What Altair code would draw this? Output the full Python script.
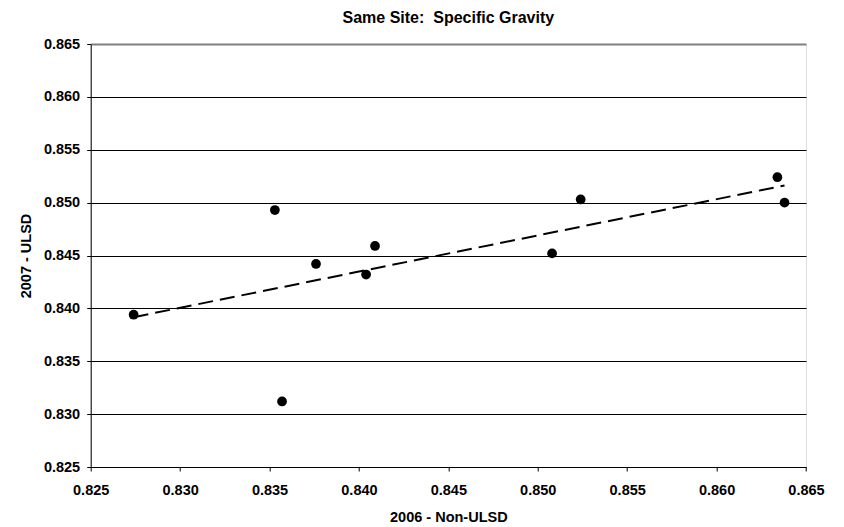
import altair as alt
import pandas as pd

# Data
x_2006 = [0.8274, 0.8353, 0.8357, 0.8376, 0.8409, 0.8404, 0.8524, 0.8508, 0.8634, 0.8638]
y_2007 = [0.8394, 0.8493, 0.8312, 0.8442, 0.8459, 0.8432, 0.8503, 0.8452, 0.8524, 0.8500]
tick_values = [0.825, 0.830, 0.835, 0.840, 0.845, 0.850, 0.855, 0.860, 0.865]

df = pd.DataFrame({"x": x_2006, "y": y_2007})

FONT = "Liberation Sans"

xscale = alt.Scale(domain=[0.825, 0.865], nice=False, zero=False)
yscale = alt.Scale(domain=[0.825, 0.865], nice=False, zero=False)

xaxis = alt.Axis(
    values=tick_values, format=".3f", title="2006 - Non-ULSD",
    grid=False, tickSize=4, tickColor="black", labelPadding=12,
    domainColor="black", labelFont=FONT, labelFontSize=14.5,
    labelFontWeight="bold", labelColor="black", titleFont=FONT,
    titleFontSize=14.5, titleFontWeight="bold", titleColor="black",
    titlePadding=14, labelFlush=False,
)
yaxis = alt.Axis(
    values=tick_values, format=".3f", title="2007 - ULSD",
    grid=True,
    gridColor={"condition": {"test": "datum.value > 0.8649", "value": "#808080"}, "value": "black"},
    gridWidth={"condition": {"test": "datum.value > 0.8649", "value": 2}, "value": 1},
    tickSize=4, tickColor="black", labelPadding=7,
    domainColor="black", labelFont=FONT, labelFontSize=14.5,
    labelFontWeight="bold", labelColor="black", titleFont=FONT,
    titleFontSize=14.5, titleFontWeight="bold", titleColor="black",
    titlePadding=10, labelFlush=False,
)

base = alt.Chart(df)

points = base.mark_circle(size=95, color="black", opacity=1).encode(
    x=alt.X("x:Q", scale=xscale, axis=xaxis),
    y=alt.Y("y:Q", scale=yscale, axis=yaxis),
)

trend = base.transform_regression("x", "y").mark_line(
    color="black", strokeWidth=2, strokeDash=[15, 7]
).encode(
    x=alt.X("x:Q", scale=xscale),
    y=alt.Y("y:Q", scale=yscale),
)

chart = (
    alt.layer(trend, points)
    .properties(
        width=715.3,
        height=423,
        autosize=alt.AutoSizeParams(type="none"),
        padding={"left": 82.7, "top": 36, "right": 20, "bottom": 58},
        title=alt.TitleParams(
            "Same Site:\u00a0 Specific Gravity", font=FONT, fontSize=16,
            fontWeight="bold", color="black", anchor="middle",
            frame="group", offset=10,
        ),
    )
    .configure_view(stroke="#a6a6a6", strokeWidth=1.5)
    .configure(background="white")
)

chart.save("out.html", embed_options={"renderer": "svg", "actions": False})
